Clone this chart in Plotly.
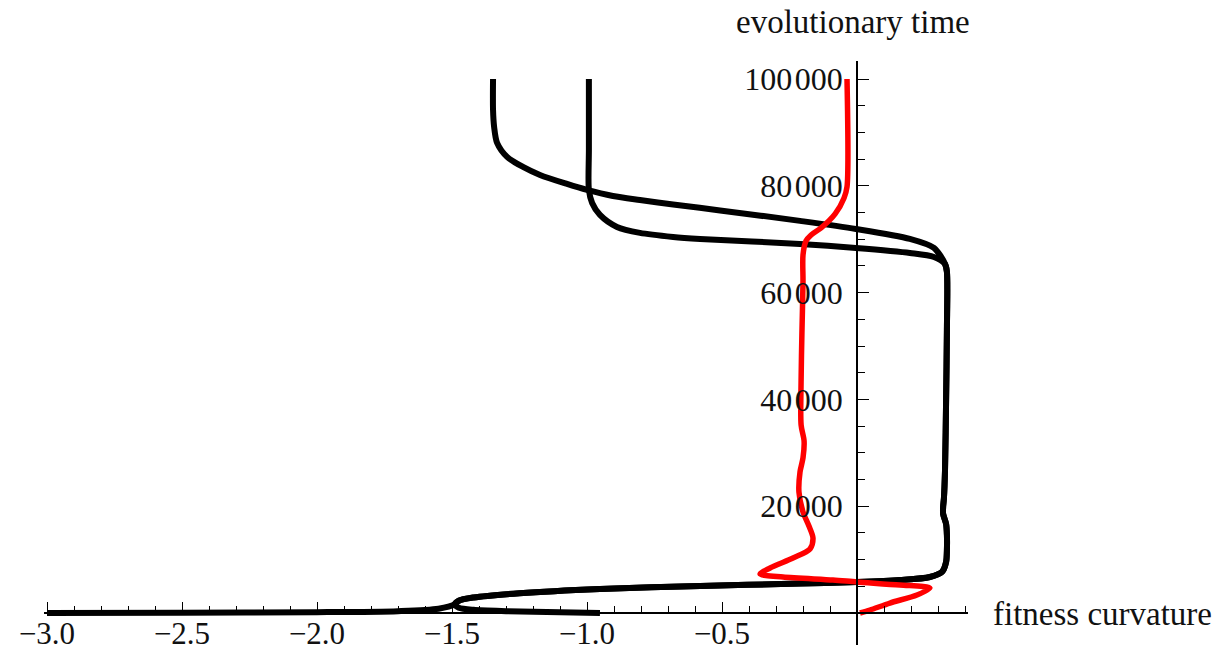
import plotly.graph_objects as go

# Trajectories of fitness curvature (x) against evolutionary time (t)
# Black: two lineages started from different curvatures; they merge early
# and split again late in the run.
black_a_x = [-3.0, -2.5, -2.0, -1.7, -1.55, -1.49, -1.475, -1.42, -1.25, -0.952, -0.581,
             -0.211, 0.0, 0.159, 0.270, 0.315, 0.330, 0.333, 0.333, 0.330, 0.319, 0.319,
             0.322, 0.326, 0.330, 0.333, 0.333,
             0.326, 0.285, 0.196, -0.004, -0.211, -0.507, -0.681, -0.804, -0.904,
             -1.0, -1.074, -1.174, -1.237, -1.296, -1.333, -1.344, -1.348, -1.348]
black_a_t = [0, 60, 150, 350, 800, 1600, 2300, 2900, 3700, 4500, 5060,
             5525, 5810, 6180, 6740, 7680, 9550, 11800, 14610, 16670, 18540, 19850,
             21540, 26780, 39900, 53000, 63870,
             65370, 68370, 70050, 71920, 73430, 75390, 76510, 77350, 78100,
             79230, 80350, 82040, 83540, 85410, 88030, 91030, 94210, 100000]

black_b_x = [-0.952, -1.1, -1.3, -1.42, -1.475, -1.49, -1.475, -1.42, -1.25, -0.952, -0.581,
             -0.211, 0.0, 0.159, 0.270, 0.315, 0.330, 0.333, 0.333, 0.330, 0.319, 0.319,
             0.322, 0.326, 0.330, 0.333, 0.333,
             0.326, 0.285, 0.196, -0.004, -0.211, -0.581, -0.681, -0.804, -0.889, -0.952,
             -0.981, -0.993, -0.993, -0.993]
black_b_t = [0, 150, 350, 600, 1000, 1600, 2300, 2900, 3700, 4500, 5060,
             5525, 5810, 6180, 6740, 7680, 9550, 11800, 14610, 16670, 18540, 19850,
             21540, 26780, 39900, 53000, 63870,
             65370, 66680, 67430, 68370, 69120, 70060, 70430, 71180, 72300, 74550,
             76790, 79230, 86720, 100000]

# Red: mean curvature of the population
red_x = [0.011, 0.048, 0.122, 0.222, 0.270, 0.159, 0.0, -0.089, -0.274, -0.359, -0.322,
         -0.237, -0.174, -0.163, -0.178, -0.2, -0.215, -0.211, -0.2, -0.196, -0.207,
         -0.207, -0.204, -0.2, -0.2, -0.189, -0.170, -0.133, -0.081, -0.048, -0.037, -0.037]
red_t = [0, 560, 1870, 3370, 4680, 5240, 5810, 6180, 6740, 7300, 8430,
         10300, 11990, 14050, 16300, 18920, 22660, 26410, 29030, 32220, 35210,
         43640, 52440, 62000, 67050, 69680, 70800, 72110, 74730, 77730, 79790, 100000]

x_major = [-3.0, -2.5, -2.0, -1.5, -1.0, -0.5]
x_major_text = ["\u22123.0", "\u22122.5", "\u22122.0", "\u22121.5", "\u22121.0", "\u22120.5"]
x_minor = [round(-3.0 + 0.1 * i, 1) for i in range(35)]

y_major = [20000, 40000, 60000, 80000, 100000]
y_major_text = ["20\u200a000", "40\u200a000", "60\u200a000", "80\u200a000", "100\u200a000"]
y_minor = [5000 * i for i in range(1, 21)]

W, H = 1215, 654
X0_PX, Y0_PX = 857, 613      # pixel position of the origin
PX_PER_X = 270.0             # pixels per unit of curvature
PX_PER_T = 534 / 100000      # pixels per unit of time

x_left_px, x_right_px = 44, 968
y_bottom_px, y_top_px = 645, 61

x_range = [(x_left_px - X0_PX) / PX_PER_X, (x_right_px - X0_PX) / PX_PER_X]
y_range = [(Y0_PX - y_bottom_px) / PX_PER_T, (Y0_PX - y_top_px) / PX_PER_T]

FONT = "Liberation Serif"
TXT = "#111111"

fig = go.Figure()
for xs, ts in [(black_a_x, black_a_t), (black_b_x, black_b_t)]:
    fig.add_trace(go.Scatter(x=xs, y=ts, mode="lines",
                             line=dict(color="black", width=6, shape="spline", smoothing=0.8),
                             hoverinfo="skip", showlegend=False))
fig.add_trace(go.Scatter(x=red_x, y=red_t, mode="lines",
                         line=dict(color="#ff0000", width=5.5, shape="spline", smoothing=0.8),
                         hoverinfo="skip", showlegend=False))

fig.update_layout(
    width=W, height=H,
    margin=dict(l=0, r=0, t=0, b=0, pad=0),
    paper_bgcolor="white", plot_bgcolor="white",
    showlegend=False,
    xaxis=dict(
        domain=[x_left_px / W, x_right_px / W], range=x_range,
        anchor="free", position=(H - Y0_PX) / H, automargin=False,
        showline=True, linecolor="black", linewidth=1.5,
        showgrid=False, zeroline=False,
        ticks="inside", ticklen=10, tickwidth=1.3, tickcolor="black",
        tickvals=x_major, ticktext=x_major_text,
        minor=dict(tickvals=x_minor, ticks="inside", ticklen=6, tickwidth=1.3, tickcolor="black"),
        tickfont=dict(family=FONT, size=31, color=TXT),
        ticklabelstandoff=-7,
    ),
    yaxis=dict(
        domain=[(H - y_bottom_px) / H, (H - y_top_px) / H], range=y_range,
        anchor="free", position=X0_PX / W, automargin=False,
        showline=True, linecolor="black", linewidth=1.5,
        showgrid=False, zeroline=False,
        ticks="inside", ticklen=11, tickwidth=1.3, tickcolor="black",
        tickvals=y_major, ticktext=y_major_text,
        minor=dict(tickvals=y_minor, ticks="inside", ticklen=7, tickwidth=1.3, tickcolor="black"),
        tickfont=dict(family=FONT, size=32, color=TXT),
        ticklabelstandoff=7,
    ),
    annotations=[
        dict(text="evolutionary time", xref="paper", yref="paper",
             x=853 / W, y=(H - 22) / H, xanchor="center", yanchor="middle",
             showarrow=False, font=dict(family=FONT, size=33, color=TXT)),
        dict(text="fitness curvature", xref="paper", yref="paper",
             x=991 / W, y=(H - 614) / H, xanchor="left", yanchor="middle",
             showarrow=False, font=dict(family=FONT, size=33, color=TXT)),
    ],
)

fig.write_html("out.html")
